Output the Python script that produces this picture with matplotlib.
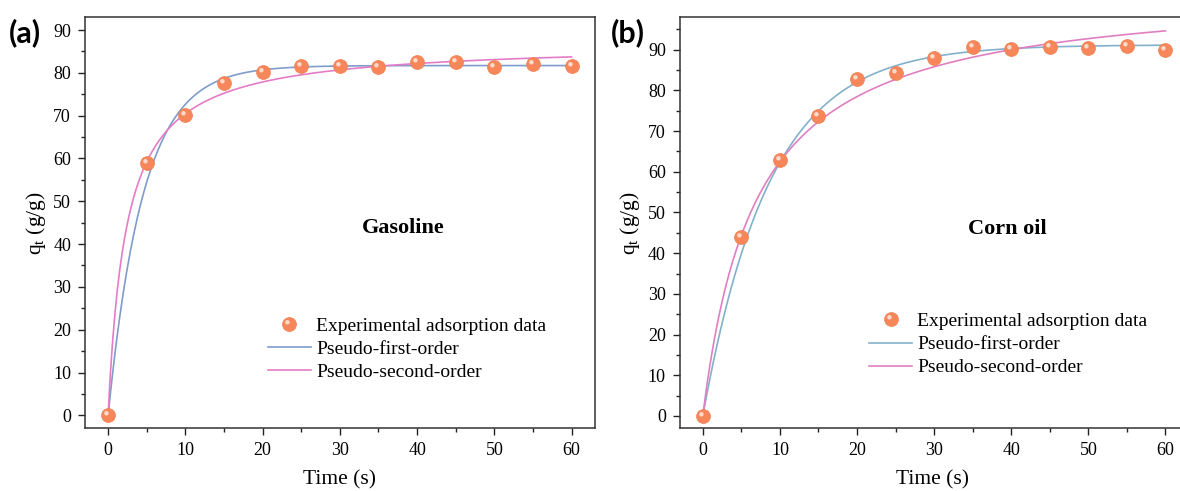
import matplotlib
matplotlib.use("Agg")
import matplotlib.pyplot as plt
import numpy as np
from matplotlib.path import Path
from matplotlib.ticker import MultipleLocator

# measured data
time_s = [0, 5, 10, 15, 20, 25, 30, 35, 40, 45, 50, 55, 60]
q_gasoline = [0, 59.0, 70.2, 77.7, 80.3, 81.7, 81.5, 81.3, 82.6, 82.6, 81.3, 82.0, 81.6]
q_cornoil = [0, 44.0, 62.9, 73.6, 82.7, 84.2, 87.9, 90.6, 90.1, 90.6, 90.4, 90.8, 89.9]

# fitted kinetic parameters (qe, k)
pfo_gasoline = (81.7, 0.22)
pso_gasoline = (87.0, 0.0049)
pfo_cornoil = (91.2, 0.115)
pso_cornoil = (105.5, 0.001377)

plt.rcParams['font.family'] = ['Liberation Serif', 'DejaVu Serif']
plt.rcParams['mathtext.fontset'] = 'custom'
plt.rcParams['mathtext.rm'] = 'Liberation Serif'
plt.rcParams['mathtext.it'] = 'Liberation Serif:italic'

# small highlight marker, offset to the upper left of the sphere
shine = Path.make_compound_path(Path([[1.0, 1.0]], [Path.MOVETO]),
                                Path.circle(center=(-0.3, 0.32), radius=0.32))


def pfo(t, qe, k):
    return qe * (1 - np.exp(-k * t))


def pso(t, qe, k):
    return qe * qe * k * t / (1 + qe * k * t)


fig = plt.figure(figsize=(11.8, 4.91), dpi=100)
ax1 = fig.add_axes([0.072, 0.128, 0.432, 0.837])
ax2 = fig.add_axes([0.576, 0.128, 0.428, 0.837])

panels = [
    (ax1, q_gasoline, pfo_gasoline, pso_gasoline, 'Gasoline', (-3, 93), 63,
     '#7f9ccb', '#e57cc6', (0.344, 0.288), ((403 - 85) / 510, 0.488)),
    (ax2, q_cornoil, pfo_cornoil, pso_cornoil, 'Corn oil', (-3, 98), 62.5,
     '#83b1cb', '#e07fc0', (0.360, 0.300), ((1008 - 680) / 505, 0.484)),
]

tt = np.linspace(0, 60, 400)
for ax, q, p1, p2, name, ylim, xmax, c1, c2, lpos, npos in panels:
    ax.plot(tt, pfo(tt, *p1), color=c1, lw=1.2, zorder=2, label='Pseudo-first-order')
    ax.plot(tt, pso(tt, *p2), color=c2, lw=1.2, zorder=2, label='Pseudo-second-order')
    dots, = ax.plot(time_s, q, 'o', ms=10, color='#f7875b', mec='#f08050', mew=0.5,
                    zorder=3, clip_on=False)
    shn, = ax.plot(time_s, q, marker=shine, ls='none', ms=10, color='white',
                   alpha=0.7, mew=0, zorder=4, clip_on=False)

    h, l = ax.get_legend_handles_labels()
    ax.legend([(dots, shn)] + h, ['Experimental adsorption data'] + l,
              loc='upper left', bbox_to_anchor=lpos, frameon=False, fontsize=14,
              handlelength=2.2, handletextpad=0.28, labelspacing=0.28,
              borderaxespad=0)

    ax.text(npos[0], npos[1], name, transform=ax.transAxes, fontsize=16,
            fontweight='bold', ha='center', va='center')

    ax.set_xlim(-3, xmax)
    ax.set_ylim(*ylim)
    ax.xaxis.set_major_locator(MultipleLocator(10))
    ax.xaxis.set_minor_locator(MultipleLocator(5))
    ax.yaxis.set_major_locator(MultipleLocator(10))
    ax.yaxis.set_minor_locator(MultipleLocator(5))
    ax.tick_params(which='both', direction='out', top=False, right=False,
                   labelsize=13, width=1.0, color='#222222')
    ax.tick_params(which='major', length=5, pad=5)
    ax.tick_params(which='minor', length=3)
    for s in ax.spines.values():
        s.set_linewidth(1.1)
        s.set_color('#333333')
    ax.set_xlabel('Time (s)', fontsize=15.5, labelpad=8)
    ax.set_ylabel(r'q$_\mathrm{t}$ (g/g)', fontsize=15.5, labelpad=4)

fig.text(9 / 1180, 1 - 33 / 491, '(a)', family=['Lato', 'DejaVu Sans'],
         fontweight='bold', fontsize=22, va='center')
fig.text(611 / 1180, 1 - 33 / 491, '(b)', family=['Lato', 'DejaVu Sans'],
         fontweight='bold', fontsize=22, va='center')

fig.savefig('out.png', dpi=100)
